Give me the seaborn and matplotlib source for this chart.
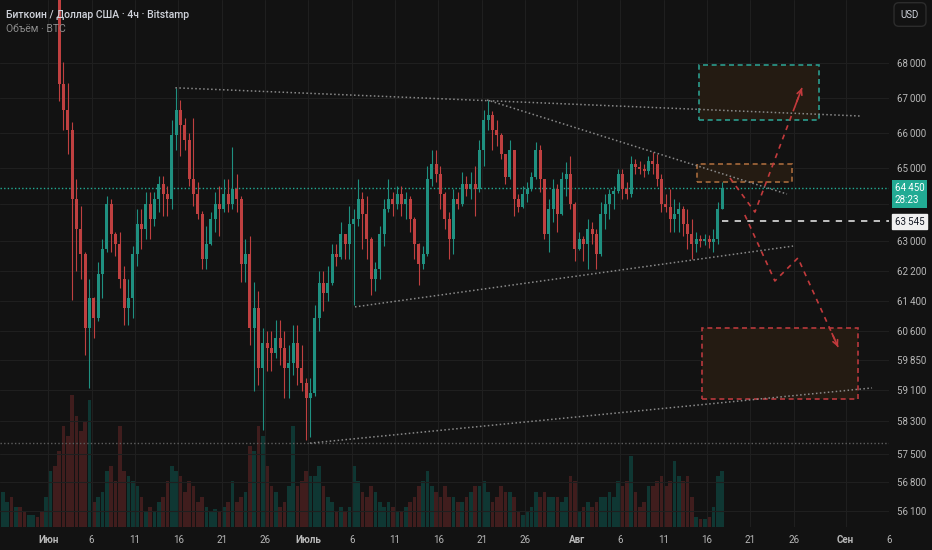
import numpy as np
import pandas as pd
import seaborn as sns
import matplotlib
matplotlib.use("Agg")
import matplotlib.pyplot as plt
import matplotlib.dates as mdates
import matplotlib.transforms as mtransforms
from matplotlib.patches import Rectangle
from matplotlib.ticker import FixedLocator, FixedFormatter, NullLocator

# BTC/USD Bitstamp, candles aggregated to 12h, first candle opens 2024-05-26 12:00
start = "2024-05-26 12:00"
open0 = 70300
closes = [70600, 70900, 70500, 71100, 70800, 70400, 70700, 71000, 70600, 70300, 70500, 70800, 70400,
          67400, 66650, 66080, 64140, 63330, 62655, 60685, 61465, 60945, 62120, 62790, 64000, 63190,
          62920, 61990, 61205, 61465, 62655, 63460, 63325, 64000, 63600, 64140, 64550, 64280, 64140,
          65940, 66650, 66225, 65800, 64690, 64280, 63730, 62520, 62920, 63600, 64000, 63870, 64280,
          64000, 64415, 64140, 62390, 62655, 60685, 61205, 59660, 60300, 60170, 60040, 60430, 60170,
          59660, 59785, 60300, 59660, 59280, 58900, 59025, 60945, 61860, 61600, 61860, 62655, 62575,
          63190, 62920, 63460, 63600, 64140, 63730, 63060, 61990, 62255, 63190, 63870, 64140, 64000,
          64280, 64000, 64140, 63600, 62920, 62390, 62655, 64690, 65105, 64830, 64280, 63600, 63060,
          64140, 64000, 64550, 64415, 64550, 64415, 65520, 66365, 66505, 66080, 65940, 65385, 64745,
          65520, 64140, 63920, 64280, 64415, 64745, 65520, 64690, 63190, 63870, 64415, 63730, 64690,
          64830, 64000, 62790, 63060, 62920, 63325, 63190, 62655, 63730, 64000, 64280, 64360, 64830,
          64415, 64280, 65105, 65020, 64965, 64910, 65190, 65105, 64690, 64000, 63920, 63600, 63730,
          63870, 63460, 63190, 62920, 63060, 63005, 63060, 62980, 63060, 63870, 64450]
highs = [71000, 71300, 71000, 71500, 71300, 70900, 71100, 71400, 71100, 70800, 70900, 71200, 70900,
         70600, 68030, 67420, 66310, 64690, 63950, 62700, 61990, 61500, 62440, 63060, 64220, 64140,
         63245, 63245, 62335, 61990, 62870, 63870, 63870, 64330, 64330, 64330, 64770, 64770, 64500,
         66365, 67280, 66930, 66400, 66000, 66420, 64610, 63800, 63410, 63790, 64330, 64500, 64690,
         64690, 65580, 64830, 64220, 63060, 63140, 61910, 61650, 60685, 60610, 60610, 60890, 60890,
         60610, 60250, 60760, 60760, 60250, 59405, 59405, 61280, 62180, 62180, 62335, 62920, 62920,
         63515, 63200, 63950, 63870, 64690, 64330, 64220, 63100, 62440, 63410, 64140, 64690, 64330,
         64500, 64500, 64330, 64220, 63650, 62950, 62870, 65050, 65520, 65520, 65050, 64330, 63790,
         64415, 64330, 64885, 64770, 64885, 65050, 65800, 66650, 66930, 66600, 66365, 65990, 65400,
         65800, 65520, 64280, 64500, 64610, 64885, 65720, 65660, 64700, 64140, 64690, 64550, 64885,
         65160, 65330, 64050, 63245, 63140, 63600, 63515, 63325, 64060, 64280, 64415, 64500, 64965,
         64965, 64610, 65330, 65245, 65190, 65105, 65330, 65440, 65385, 64830, 64280, 64415, 64140,
         64060, 63950, 63870, 63600, 63245, 63165, 63190, 63165, 63325, 64060, 64610]
lows = [70200, 70400, 70200, 70400, 70300, 70100, 70300, 70500, 70200, 70050, 70100, 70300, 70100,
        66900, 66080, 65385, 61410, 62180, 61990, 59990, 59150, 60430, 60870, 61465, 62710, 62710,
        62600, 61730, 60760, 60760, 60945, 62335, 62790, 63060, 63060, 63410, 63790, 63680, 63680,
        63870, 65520, 65330, 65520, 64500, 63950, 63600, 62255, 62255, 62900, 63245, 63140, 63790,
        63790, 63870, 63790, 61910, 61910, 60250, 59080, 59230, 58080, 59585, 59585, 59915, 59735,
        58900, 58900, 59480, 59230, 59080, 57830, 57907, 58950, 60610, 61125, 61385, 61805, 62335,
        62500, 62520, 62520, 61285, 63410, 62790, 62520, 61545, 61650, 61990, 62870, 63790, 63680,
        63870, 63680, 63600, 63245, 62520, 61805, 62255, 62600, 64500, 64610, 63870, 63325, 62520,
        62655, 63870, 63950, 64220, 64140, 63680, 64350, 65050, 66080, 65520, 65610, 65245, 64550,
        64690, 63680, 63790, 63900, 64060, 64360, 64700, 64330, 63060, 62710, 63515, 63245, 63700,
        64220, 63870, 62470, 62750, 62470, 62255, 62920, 62255, 62600, 63325, 63600, 63870, 64300,
        64140, 64140, 64200, 64830, 64830, 64745, 64830, 64830, 64500, 63790, 63790, 63245, 63245,
        63245, 63140, 62790, 62520, 62710, 62840, 62895, 62815, 62710, 62920, 63870]
volumes = [35, 25, 30, 20, 20, 15, 12, 12, 10, 15, 30, 55, 60, 75, 100, 90, 130, 110, 95, 105,
           125, 25, 30, 35, 55, 60, 45, 100, 55, 50, 45, 40, 30, 15, 20, 15, 25, 30, 45, 60,
           55, 50, 35, 45, 40, 25, 30, 20, 15, 18, 15, 20, 25, 45, 25, 30, 35, 80, 75, 100,
           90, 60, 40, 35, 20, 25, 40, 100, 40, 45, 55, 50, 50, 60, 40, 30, 25, 15, 20, 15,
           20, 60, 45, 35, 30, 40, 35, 25, 20, 25, 20, 15, 15, 20, 25, 30, 40, 45, 55, 40,
           35, 30, 40, 30, 30, 25, 25, 30, 35, 40, 40, 45, 35, 25, 30, 40, 35, 35, 30, 15,
           12, 15, 20, 35, 30, 35, 30, 30, 30, 25, 30, 50, 45, 15, 20, 25, 20, 25, 30, 30,
           35, 30, 45, 40, 45, 70, 35, 20, 25, 40, 40, 45, 50, 40, 45, 65, 50, 45, 50, 30,
           10, 8, 8, 10, 20, 50, 55]

price_ticks = [68000, 67000, 66000, 65000, 64000, 63000, 62200, 61400, 60600,
               59850, 59100, 58300, 57500, 56800, 56100]
hidden_price_labels = [64000]
date_ticks = ["2024-06-01", "2024-06-06", "2024-06-11", "2024-06-16", "2024-06-21",
              "2024-06-26", "2024-07-01", "2024-07-06", "2024-07-11", "2024-07-16",
              "2024-07-21", "2024-07-26", "2024-08-01", "2024-08-06", "2024-08-11",
              "2024-08-16", "2024-08-21", "2024-08-26", "2024-09-01", "2024-09-06"]
date_labels = ["Июн", "6", "11", "16", "21", "26", "Июль", "6", "11", "16", "21", "26",
               "Авг", "6", "11", "16", "21", "26", "Сен", "6"]
month_labels = ["Июн", "Июль", "Авг", "Сен"]

last_price = 64450
countdown = "28:23"
level_price = 63545
level_start = "2024-08-17 17:00"
low_level = 57770

# drawings on the chart (dates, prices)
upper_dates = ["2024-06-15 16:00", "2024-09-02 16:00"]
upper_prices = [67280, 66470]
desc_dates = ["2024-07-21 15:00", "2024-08-25 05:30"]
desc_prices = [66930, 64280]
asc_dates = ["2024-07-06 09:20", "2024-08-25 22:20"]
asc_prices = [61240, 62860]
base_dates = ["2024-07-01 04:30", "2024-09-04 01:00"]
base_prices = [57760, 59145]

box_up = ["2024-08-15 02:00", "2024-08-28 22:20", 66360, 67940]
box_mid = ["2024-08-14 20:25", "2024-08-25 19:30", 64615, 65115]
box_down = ["2024-08-15 10:20", "2024-09-02 10:00", 58865, 60690]

path_up_dates = ["2024-08-18 15:40", "2024-08-21 12:45", "2024-08-26 23:00"]
path_up_prices = [64725, 63785, 67275]
path_down_dates = ["2024-08-20 08:50", "2024-08-23 20:00", "2024-08-26 11:45", "2024-08-31 03:00"]
path_down_prices = [63705, 61925, 62540, 60195]

bg = "#121212"
grid_c = "#1f1f1f"
txt_c = "#b8b8b8"
up_c, down_c = "#1f9080", "#bf4040"
vup_c, vdown_c = "#0f3733", "#401d1d"
trend_c = "#8a8a8a"
red_c = "#c23a3c"

sns.set_theme(style="dark", rc={
    "axes.facecolor": bg, "figure.facecolor": bg, "axes.edgecolor": bg,
    "text.color": txt_c, "xtick.color": txt_c, "ytick.color": txt_c,
})
plt.rcParams["font.family"] = ["Roboto", "DejaVu Sans"]


def dnum(d):
    return mdates.date2num(pd.to_datetime(d))


closes = np.array(closes, dtype=float)
highs = np.array(highs, dtype=float)
lows = np.array(lows, dtype=float)
volumes = np.array(volumes, dtype=float)
opens = np.r_[open0, closes[:-1]]
times = pd.date_range(start, periods=len(closes), freq="12h")
x = mdates.date2num(times) + 0.25
is_up = closes >= opens

fig = plt.figure(figsize=(9.32, 5.5), dpi=100, facecolor=bg)
ax = fig.add_axes([0, 23 / 550, 889 / 932, 527 / 550])
ax_vol = ax.twinx()
ax.set_zorder(ax_vol.get_zorder() + 1)
ax.patch.set_visible(False)

# volume
ax_vol.bar(x, volumes, width=0.42, color=np.where(is_up, vup_c, vdown_c), linewidth=0)
ax_vol.set_ylim(0, volumes.max() * 4)
ax_vol.yaxis.set_visible(False)
for s in ax_vol.spines.values():
    s.set_visible(False)

# candles
cols = np.where(is_up, up_c, down_c)
ax.vlines(x, lows, highs, colors=cols, linewidth=0.8, zorder=3)
ax.bar(x, np.abs(closes - opens), bottom=np.minimum(opens, closes), width=0.34,
       color=cols, linewidth=0, zorder=3)

ax.set_yscale("log")
ax.set_ylim(55717, 69865)
ax.set_xlim(dnum("2024-05-26 10:20"), dnum("2024-09-06 00:00"))

ax.yaxis.tick_right()
ax.yaxis.set_major_locator(FixedLocator(price_ticks))
ax.yaxis.set_minor_locator(NullLocator())
ax.yaxis.set_major_formatter(FixedFormatter(
    ["" if p in hidden_price_labels else f"{p:,}".replace(",", "\u2009") for p in price_ticks]))
ax.set_xticks(dnum(date_ticks))
ax.set_xticklabels(date_labels)
for lab in ax.get_xticklabels():
    if lab.get_text() in month_labels:
        lab.set_fontweight("bold")
ax.tick_params(axis="x", length=0, pad=6, labelsize=7, colors=txt_c)
ax.tick_params(axis="y", length=0, pad=6, labelsize=7, colors=txt_c)
ax.grid(True, color=grid_c, linewidth=0.8)
for s in ax.spines.values():
    s.set_visible(False)

# trend lines
dot = (0, (1, 1.6))
for dts, prs in [(upper_dates, upper_prices), (desc_dates, desc_prices),
                 (asc_dates, asc_prices), (base_dates, base_prices)]:
    sns.lineplot(x=dnum(dts), y=prs, ax=ax, color=trend_c, linewidth=1.1,
                 linestyle=dot, sort=False, estimator=None, zorder=4)
ax.axhline(low_level, color="#5e5e5e", linewidth=1.0, linestyle=dot, zorder=2)
ax.axhline(last_price, color="#22ab94", linewidth=1.0, linestyle=dot, zorder=2)
ax.hlines(level_price, dnum(level_start), ax.get_xlim()[1], colors="#cfcfcf",
          linewidth=1.3, linestyles=(0, (3.5, 3.5)), zorder=4)

# zones
for (d0, d1, p0, p1), ec in [(box_up, "#2b9c8d"), (box_mid, "#a86a3c"), (box_down, "#b8393d")]:
    x0, x1 = dnum(d0), dnum(d1)
    ax.add_patch(Rectangle((x0, p0), x1 - x0, p1 - p0, facecolor="#241b12",
                           edgecolor=ec, linewidth=1.2, linestyle=(0, (3, 2.2)), zorder=1.5))

# scenario paths
for dts, prs in [(path_up_dates, path_up_prices), (path_down_dates, path_down_prices)]:
    px = dnum(dts)
    ax.plot(px, prs, color=red_c, linewidth=1.2, linestyle=(0, (3, 3)), zorder=5)
    tail_x = px[-1] - 0.15 * (px[-1] - px[-2])
    tail_y = prs[-1] * (prs[-2] / prs[-1]) ** 0.15
    ax.annotate("", xy=(px[-1], prs[-1]), xytext=(tail_x, tail_y),
                arrowprops=dict(arrowstyle="->", color=red_c, lw=1.2,
                                mutation_scale=9, shrinkA=0, shrinkB=0), zorder=5)

# price labels on the scale
trans = mtransforms.blended_transform_factory(ax.transAxes, ax.transData)
ax.annotate(f"{last_price:,}".replace(",", "\u2009") + "\n" + countdown,
            xy=(1, last_price), xycoords=trans, xytext=(4, -4.5), textcoords="offset points",
            va="center", ha="left", fontsize=7, color="white", linespacing=1.25,
            bbox=dict(boxstyle="square,pad=0.3", facecolor="#22ab94", edgecolor="none"),
            annotation_clip=False)
ax.annotate(f"{level_price:,}".replace(",", "\u2009"),
            xy=(1, level_price), xycoords=trans, xytext=(4, -0.5), textcoords="offset points",
            va="center", ha="left", fontsize=7, color="#131722",
            bbox=dict(boxstyle="square,pad=0.3", facecolor="#f0f0f0", edgecolor="#f0f0f0"),
            annotation_clip=False)

fig.text(910 / 932, 1 - 14.5 / 550, "USD", ha="center", va="center", fontsize=7, color="#d1d4dc",
         bbox=dict(boxstyle="round,pad=0.7,rounding_size=0.5", facecolor=bg, edgecolor="#2c2c2c"))

# legend-like header
fig.text(6 / 932, 1 - 14.5 / 550, "Биткоин / Доллар США · 4ч · Bitstamp",
         ha="left", va="center", fontsize=7.5, color="#d1d4dc", fontweight="medium")
fig.text(6 / 932, 1 - 29.5 / 550, "Объём · BTC", ha="left", va="center",
         fontsize=7.5, color="#8c8c8c")

fig.savefig("out.png", dpi=100, facecolor=bg)
